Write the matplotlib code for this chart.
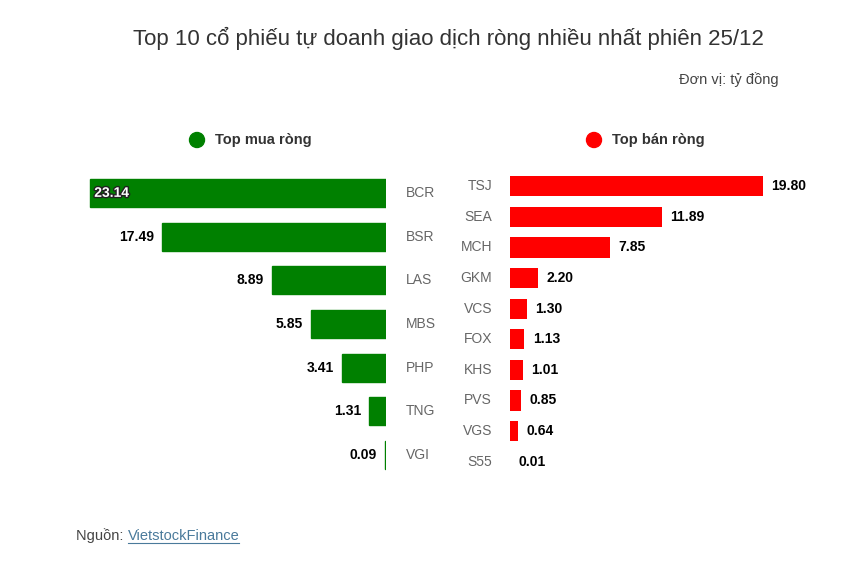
import matplotlib.pyplot as plt
import matplotlib.patheffects as pe
from matplotlib.patches import Ellipse

plt.rcParams['font.family'] = ['Liberation Sans', 'DejaVu Sans']

# Data (tỷ đồng)
buy_tickers = ["BCR", "BSR", "LAS", "MBS", "PHP", "TNG", "VGI"]
buy_values = [23.14, 17.49, 8.89, 5.85, 3.41, 1.31, 0.09]
sell_tickers = ["TSJ", "SEA", "MCH", "GKM", "VCS", "FOX", "KHS", "PVS", "VGS", "S55"]
sell_values = [19.80, 11.89, 7.85, 2.20, 1.30, 1.13, 1.01, 0.85, 0.64, 0.01]

W, H = 866, 561
fig = plt.figure(figsize=(W / 100, H / 100), dpi=100)
fig.patch.set_facecolor("white")

def px(x, y):
    return x / W, 1 - y / H

green = "#008000"
red = "#ff0000"
xmax = 23.14

# Left panel: top net buy
ax_l = fig.add_axes([88 / W, 1 - 477 / H, 298 / W, 306 / H])
ax_l.barh(range(len(buy_tickers)), buy_values, height=0.64, color=green,
          edgecolor=green, linewidth=1.0)
ax_l.set_xlim(xmax * 1.007, 0)
ax_l.set_ylim(len(buy_tickers) - 0.5, -0.5)
for i, (t, v) in enumerate(zip(buy_tickers, buy_values)):
    ax_l.annotate(t, xy=(0, i), xytext=(14, 0), textcoords="offset points",
                  ha="left", va="center", fontsize=10, color="#666666")
    if v == max(buy_values):
        ax_l.annotate(f"{v:.2f}", xy=(v, i), xytext=(3, 0), textcoords="offset points",
                      ha="left", va="center", fontsize=10, fontweight="bold", color="white",
                      path_effects=[pe.withStroke(linewidth=2, foreground="#222222")])
    else:
        ax_l.annotate(f"{v:.2f}", xy=(v, i), xytext=(-6, 0), textcoords="offset points",
                      ha="right", va="center", fontsize=10, fontweight="bold", color="black")
ax_l.axis("off")

# Right panel: top net sell
ax_r = fig.add_axes([510 / W, 1 - 477 / H, 298 / W, 306 / H])
ax_r.barh(range(len(sell_tickers)), sell_values, height=0.66, color=red, linewidth=0)
ax_r.set_xlim(0, xmax * 1.007)
ax_r.set_ylim(len(sell_tickers) - 0.5, -0.5)
for i, (t, v) in enumerate(zip(sell_tickers, sell_values)):
    ax_r.annotate(t, xy=(0, i), xytext=(-13, 0), textcoords="offset points",
                  ha="right", va="center", fontsize=10, color="#666666")
    ax_r.annotate(f"{v:.2f}", xy=(v, i), xytext=(6, 0), textcoords="offset points",
                  ha="left", va="center", fontsize=10, fontweight="bold", color="black")
ax_r.axis("off")

# Title and notes
fig.text(*px(448, 38), "Top 10 cổ phiếu tự doanh giao dịch ròng nhiều nhất phiên 25/12",
         ha="center", va="center", fontsize=16, color="#333333")
fig.text(*px(779, 80), "Đơn vị: tỷ đồng", ha="right", va="center", fontsize=10.5, color="#444444")

# Legend
for cx, col, label in [(197, green, "Top mua ròng"), (594, red, "Top bán ròng")]:
    fig.add_artist(Ellipse(px(cx, 140), 15 / W, 15 / H, transform=fig.transFigure,
                           color=col))
    fig.text(*px(cx + 18, 140), label, ha="left", va="center", fontsize=10.5,
             fontweight="bold", color="#333333")

# Source
fig.text(*px(76, 536), "Nguồn: ", ha="left", va="center", fontsize=10.5, color="#444444")
fig.text(*px(128, 536), "VietstockFinance", ha="left", va="center", fontsize=10.5,
         color="#4a7a9b")
fig.add_artist(plt.Line2D([128 / W, 239 / W], [1 - 543 / H, 1 - 543 / H],
                          transform=fig.transFigure, color="#4a7a9b", linewidth=0.8))

fig.savefig("out.png", dpi=100)
